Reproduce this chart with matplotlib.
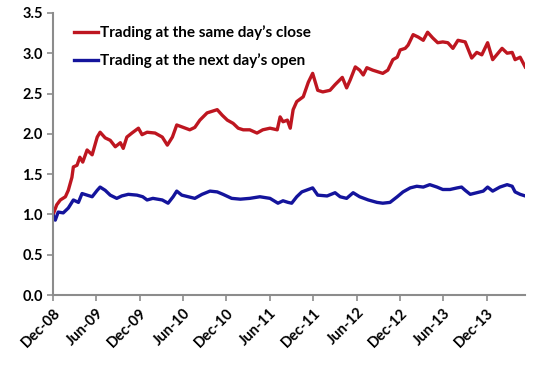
import matplotlib
matplotlib.use("Agg")
import matplotlib.pyplot as plt
import matplotlib.dates as mdates
import pandas as pd

plt.rcParams['font.family'] = ['Lato', 'DejaVu Sans']

# months after 1 Dec 2008, value
same_day_m = [0, 0.5, 1.0, 1.7, 2.1, 2.6, 2.8, 3.3, 3.7, 4.1, 4.7, 5.4, 6.1, 6.5, 7.2, 7.9,
              8.6, 9.3, 9.7, 10.2, 10.9, 11.8, 12.3, 13.0, 14.1, 15.1, 15.8, 16.5, 17.1, 18.0,
              18.9, 19.6, 20.3, 21.3, 22.7, 23.4, 24.1, 24.9, 25.6, 26.3, 27.2, 28.2, 29.0,
              30.0, 31.0, 31.4, 31.8, 32.4, 32.8, 33.2, 33.7, 34.6, 35.3, 35.9, 36.6, 37.3,
              38.3, 39.0, 40.0, 40.6, 41.1, 41.8, 42.4, 42.9, 43.4, 44.2, 44.9, 45.6, 46.3,
              47.0, 47.6, 48.0, 48.7, 49.1, 49.8, 50.5, 51.2, 51.8, 52.5, 53.2, 53.9, 54.6,
              55.3, 56.0, 57.0, 57.9, 58.6, 59.3, 60.1, 60.8, 62.1, 62.8, 63.5, 63.9, 64.6, 65.3]
same_day_v = [1.00, 1.12, 1.18, 1.22, 1.30, 1.46, 1.59, 1.61, 1.71, 1.65, 1.80, 1.74, 1.96, 2.02,
              1.95, 1.92, 1.84, 1.89, 1.82, 1.96, 2.01, 2.07, 1.99, 2.02, 2.01, 1.96, 1.86, 1.96,
              2.11, 2.08, 2.05, 2.08, 2.17, 2.26, 2.30, 2.23, 2.17, 2.13, 2.07, 2.05, 2.05, 2.01,
              2.05, 2.07, 2.05, 2.21, 2.15, 2.17, 2.07, 2.30, 2.40, 2.46, 2.64, 2.75, 2.54, 2.52,
              2.54, 2.61, 2.70, 2.57, 2.67, 2.83, 2.79, 2.73, 2.82, 2.79, 2.77, 2.75, 2.79, 2.92,
              2.95, 3.04, 3.06, 3.10, 3.23, 3.20, 3.16, 3.26, 3.19, 3.13, 3.14, 3.13, 3.06, 3.16,
              3.14, 2.94, 3.01, 2.98, 3.13, 2.92, 3.06, 3.00, 3.01, 2.92, 2.95, 2.83]

next_open_m = [0, 0.3, 0.7, 1.4, 2.1, 2.8, 3.5, 4.0, 4.7, 5.4, 6.1, 6.5, 7.2, 7.9, 8.8, 9.5,
               10.4, 11.6, 12.4, 13.0, 13.8, 15.1, 15.9, 16.6, 17.1, 17.8, 18.7, 19.6, 20.6,
               21.7, 22.7, 23.5, 24.7, 25.9, 27.2, 28.6, 30.0, 31.1, 31.8, 32.5, 33.0, 33.7,
               34.4, 35.3, 35.9, 36.6, 37.9, 39.0, 39.7, 40.6, 41.5, 42.4, 43.6, 44.8, 45.6,
               46.6, 47.6, 48.4, 49.4, 50.3, 51.2, 52.1, 53.1, 53.9, 54.9, 55.9, 56.5, 57.0,
               57.7, 58.6, 59.5, 60.1, 60.8, 61.8, 62.8, 63.5, 63.9, 64.6, 65.3]
next_open_v = [0.99, 0.93, 1.03, 1.02, 1.08, 1.18, 1.15, 1.26, 1.24, 1.22, 1.30, 1.34, 1.30,
               1.24, 1.20, 1.23, 1.25, 1.24, 1.22, 1.18, 1.20, 1.18, 1.14, 1.22, 1.29, 1.24,
               1.22, 1.20, 1.25, 1.29, 1.28, 1.25, 1.20, 1.19, 1.20, 1.22, 1.20, 1.14, 1.17,
               1.15, 1.14, 1.22, 1.28, 1.31, 1.33, 1.24, 1.23, 1.27, 1.22, 1.20, 1.27, 1.22,
               1.18, 1.15, 1.14, 1.15, 1.22, 1.28, 1.33, 1.35, 1.34, 1.37, 1.34, 1.31, 1.31,
               1.33, 1.34, 1.30, 1.25, 1.27, 1.29, 1.34, 1.29, 1.34, 1.37, 1.35, 1.28, 1.25, 1.23]

start = pd.Timestamp('2008-12-01')
def to_dates(months):
    return [start + pd.Timedelta(days=m * 30.44) for m in months]

red_x = to_dates(same_day_m)
blue_x = to_dates(next_open_m)

fig = plt.figure(figsize=(5.42, 3.68), dpi=100)
ax = fig.add_axes([0.098, 0.198, 0.871, 0.767])

ax.plot(red_x, same_day_v, color='#BE1620', lw=2.4, label="Trading at the same day\u2019s close")
ax.plot(blue_x, next_open_v, color='#14149C', lw=2.4, label="Trading at the next day\u2019s open")

ax.set_ylim(0, 3.5)
ax.set_yticks([0, 0.5, 1.0, 1.5, 2.0, 2.5, 3.0, 3.5])
ax.yaxis.set_major_formatter(plt.FormatStrFormatter('%.1f'))
ax.set_xlim(red_x[0], red_x[-1])
ax.xaxis.set_major_locator(mdates.MonthLocator(bymonth=[6, 12]))
ax.xaxis.set_major_formatter(mdates.DateFormatter('%b-%y'))

for s in ['top', 'right']:
    ax.spines[s].set_visible(False)
for s in ['left', 'bottom']:
    ax.spines[s].set_color('#8C8C8C')
    ax.spines[s].set_linewidth(1.5)
ax.tick_params(axis='both', colors='#8C8C8C', length=4, width=1.2)
ax.tick_params(axis='both', labelcolor='black', labelsize=10.5)
for lab in ax.get_xticklabels():
    lab.set_rotation(45)
    lab.set_ha('right')
    lab.set_rotation_mode('anchor')
    lab.set_fontweight('bold')
for lab in ax.get_yticklabels():
    lab.set_fontweight('bold')

leg = ax.legend(loc='upper left', bbox_to_anchor=(0.015, 1.005), frameon=False,
                handlelength=1.6, handletextpad=0.1, labelspacing=0.85,
                prop={'weight': 'bold', 'size': 11})

plt.savefig('out.png', dpi=100)
